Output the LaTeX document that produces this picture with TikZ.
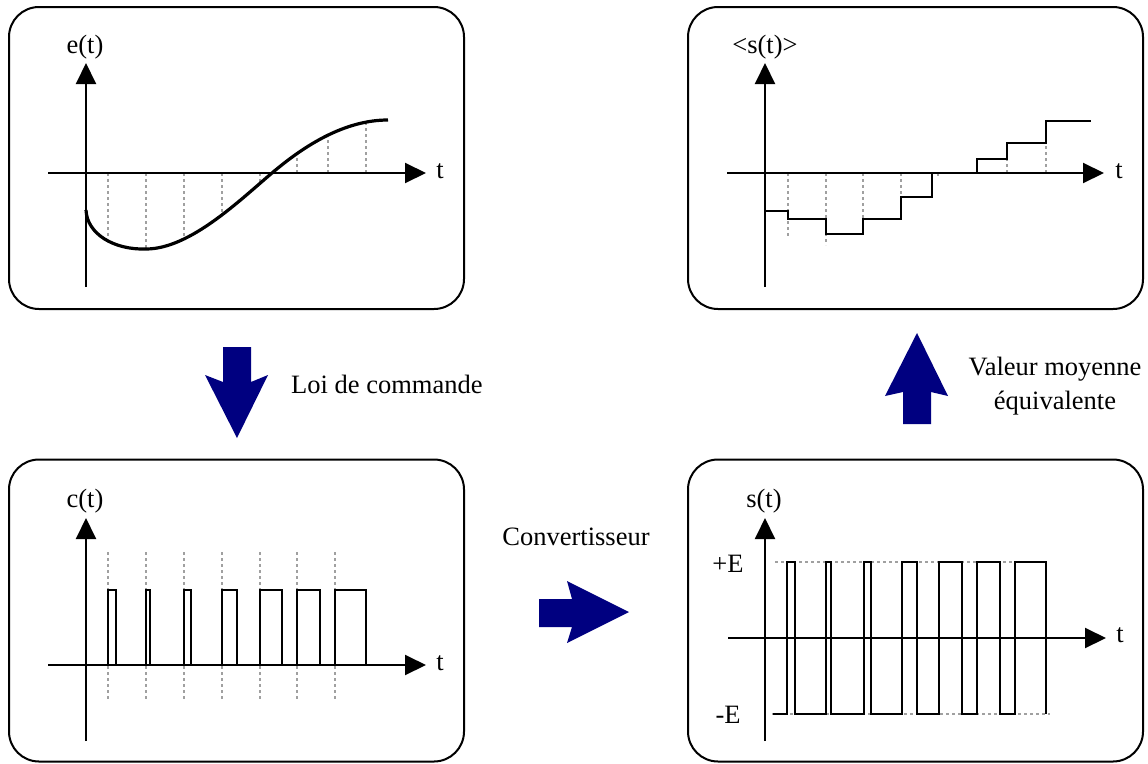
\documentclass[tikz,border=0pt]{standalone}
\usepackage{fontspec}
\setmainfont{Liberation Serif}
\usetikzlibrary{arrows.meta}
\definecolor{navyarrow}{RGB}{0,0,128}
\definecolor{dashgray}{RGB}{160,160,160}
\begin{document}
\begin{tikzpicture}[x=1pt,y=-1pt,
  panel/.style={draw=black, line width=2pt, rounded corners=30pt, minimum width=455pt, minimum height=302pt, inner sep=0pt},
  axis/.style={line width=2pt, -{Triangle[length=21pt,width=20pt]}},
  guide/.style={draw=dashgray, line width=1.3pt, dash pattern=on 3pt off 3pt},
  signal/.style={line width=2pt, line join=miter},
  lbl/.style={font=\fontsize{26.5}{30}\selectfont, inner sep=0pt},
  bigarrow/.style={fill=navyarrow, draw=none}]
\useasboundingbox (0,0) rectangle (1148,763);

% panels
\node[panel] (p1) at (236.5,158) {};
\node[panel] (p2) at (915.5,158) {};
\node[panel] (p3) at (236.5,610.5) {};
\node[panel] (p4) at (915.5,610.5) {};

% ---------- panel 1 : e(t)
\foreach \x/\y in {108/238,146/249,184/240,222/216,260/182,297/153,328/137,366/123}
  \draw[guide] (\x,173) -- (\x,\y);
\draw[axis] (48,173) -- (426,173);
\draw[axis] (86,287) -- (86,63);
\draw[line width=3.2pt, line cap=butt] (86,210) .. controls (87,234) and (114,250) .. (146,249)
  .. controls (190,249) and (240,200) .. (272,173)
  .. controls (305,145) and (345,120) .. (388,120);
\node[lbl, anchor=base] (et) at (85,53) {e(t)};
\node[lbl, anchor=base] (t1) at (440,178) {t};

% ---------- panel 2 : <s(t)>
\foreach \x/\y in {788/238,826/245,863/234,901/219,938/179,977/159,1007/143,1046/121}
  \draw[guide] (\x,173) -- (\x,\y);
\draw[axis] (727,173) -- (1104,173);
\draw[axis] (765,287) -- (765,63);
\draw[signal] (765,211) -- (788,211) -- (788,219) -- (826,219) -- (826,234) -- (863,234) -- (863,219) -- (901,219) -- (901,197) -- (932,197) -- (932,173) -- (977,173) -- (977,159) -- (1007,159) -- (1007,143) -- (1046,143) -- (1046,121) -- (1091,121);
\node[lbl, anchor=base] (st2) at (765,53) {<s(t)>};
\node[lbl, anchor=base] (t2) at (1119,178) {t};

% ---------- panel 3 : c(t)
\foreach \x in {108,146,184,222,260,297,335}
  \draw[guide] (\x,552) -- (\x,700);
\draw[axis] (48,665) -- (426,665);
\draw[axis] (86,741) -- (86,518);
\foreach \a/\b in {108/116,146/150,184/191,222/237,260/282,297/320,335/366}
  \draw[signal] (\a,665) -- (\a,590) -- (\b,590) -- (\b,665);
\node[lbl, anchor=base] (ct) at (85,507) {c(t)};
\node[lbl, anchor=base] (t3) at (440,670) {t};

% ---------- panel 4 : s(t)
\draw[guide] (775,562) -- (1045,562);
\draw[guide] (772,714) -- (1050,714);
\draw[axis] (728,638) -- (1106,638);
\draw[axis] (765,741) -- (765,518);
\draw[signal] (773,714) -- (787,714) -- (787,562) -- (795,562) -- (795,714) -- (826,714) -- (826,562) -- (831,562) -- (831,714) -- (864,714) -- (864,562) -- (871,562) -- (871,714) -- (902,714) -- (902,562) -- (917,562) -- (917,714) -- (939,714) -- (939,562) -- (962,562) -- (962,714) -- (977,714) -- (977,562) -- (1000,562) -- (1000,714) -- (1015,714) -- (1015,562) -- (1046,562) -- (1046,714);
\node[lbl, anchor=base] (st4) at (764,507) {s(t)};
\node[lbl, anchor=base] (t4) at (1120,642) {t};
\node[lbl, anchor=base] (pE) at (728,572) {+E};
\node[lbl, anchor=base] (mE) at (728,723) {-E};

% ---------- block arrows
\fill[bigarrow] (223,347) -- (251,347) -- (251,382) -- (268,375) -- (237,438) -- (205,375) -- (223,382) -- cycle;
\node[lbl, anchor=base west] (loi) at (291,393) {Loi de commande};

\fill[bigarrow] (539,599) -- (572,599) -- (567,581) -- (629,612) -- (567,643) -- (572,627) -- (539,627) -- cycle;
\node[lbl, anchor=base] (conv) at (576,545) {Convertisseur};

\fill[bigarrow] (903,424) -- (903,392) -- (885,396) -- (917,333) -- (948,396) -- (931,392) -- (931,424) -- cycle;
\node[lbl, anchor=base] (val) at (1055,375) {Valeur moyenne};
\node[lbl, anchor=base] (equi) at (1055,409) {équivalente};
\end{tikzpicture}
\end{document}
